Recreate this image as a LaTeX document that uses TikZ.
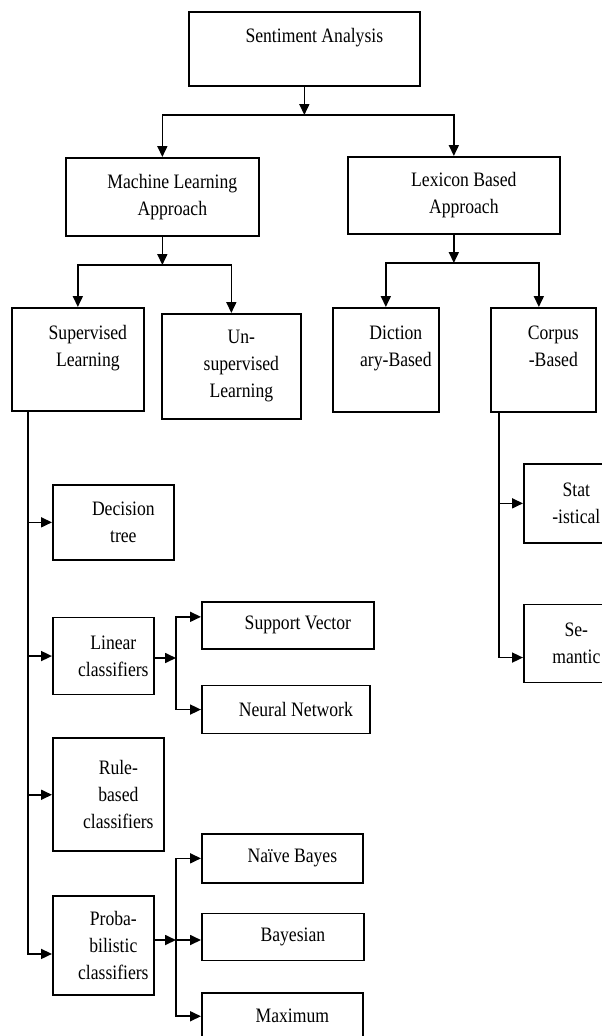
\documentclass[tikz,border=0pt]{standalone}
\usepackage{fontspec}
\setmainfont{Liberation Serif}[FakeStretch=0.86]
\usetikzlibrary{positioning,arrows.meta}

\tikzset{
	box/.style={draw, line width=1.7pt, inner sep=0pt, align=center, anchor=north west,
		font=\fontsize{20.5}{27}\selectfont,
		execute at begin node={\hspace*{20pt}}},
	arr/.style={line width=1.7pt, -{Triangle[length=11pt,width=10pt]}},
}

\begin{document}
\begin{tikzpicture}[x=1pt,y=-1pt]
	\useasboundingbox (0,0) rectangle (602,1036);

	\node[box, minimum width=231pt, minimum height=74pt] (sa) at (188,11) {Sentiment Analysis\\~};

	\node[box, minimum width=193pt, minimum height=78pt] (ml) at (65,157) {Machine Learning\\Approach};
	\node[box, minimum width=212pt, minimum height=77pt] (lx) at (347,156) {Lexicon Based\\Approach};

	\node[box, minimum width=132pt, minimum height=103pt] (sup) at (11,307) {Supervised\\Learning\\~};
	\node[box, minimum width=139pt, minimum height=105pt] (uns) at (161,313) {Un-\\supervised\\Learning};
	\node[box, minimum width=106pt, minimum height=104pt] (dic) at (332,307) {Diction\\ary-Based\\~};
	\node[box, minimum width=105pt, minimum height=104pt] (cor) at (490,307) {Corpus\\-Based\\~};

	\node[box, minimum width=121pt, minimum height=75pt] (dt) at (52,484) {Decision\\tree};
	\node[box, minimum width=101pt, minimum height=77pt, below=56pt of dt.south west, anchor=north west] (lin) {Linear\\classifiers};
	\node[box, minimum width=111pt, minimum height=113pt, below=42pt of lin.south west, anchor=north west] (rule) {Rule-\\based\\classifiers};
	\node[box, minimum width=101pt, minimum height=99pt, below=43pt of rule.south west, anchor=north west] (prob) {Proba-\\bilistic\\classifiers};

	\node[box, minimum width=172pt, minimum height=47pt] (svm) at (201,601) {Support Vector};
	\node[box, minimum width=168pt, minimum height=48pt, below=35pt of svm.south west, anchor=north west] (nn) {Neural Network};

	\node[box, minimum width=161pt, minimum height=49pt] (nb) at (201,833) {Naïve Bayes};
	\node[box, minimum width=162pt, minimum height=47pt, below=29pt of nb.south west, anchor=north west] (bay) {Bayesian};
	\node[box, minimum width=161pt, minimum height=46pt, below=31pt of bay.south west, anchor=north west] (max) {Maximum};

	\node[box, minimum width=85pt, minimum height=79pt] (stat) at (523,463) {Stat\\-istical};
	\node[box, minimum width=85pt, minimum height=78pt, below=60pt of stat.south west, anchor=north west] (sem) {Se-\\mantic};

	% junctions
	\coordinate (j1) at (304,115);
	\coordinate (j2) at (162,265);
	\coordinate (j3) at (454,263);
	\coordinate (j4) at (176,658);
	\coordinate (j5) at (176,940);
	\coordinate (t0) at ([xshift=17pt]sup.south west);
	\coordinate (t1) at ([xshift=9pt]cor.south west);

	\draw[arr] (sa.south) -- (sa.south |- j1);
	\draw[arr] (j1) -| (ml);
	\draw[arr] (j1) -| (lx);

	\draw[arr] (ml.south) -- (ml.south |- j2);
	\draw[arr] (j2) -| (sup);
	\draw[arr] (j2) -| (uns);

	\draw[arr] (lx.south) -- (lx.south |- j3);
	\draw[arr] (j3) -| (dic);
	\draw[arr] (j3) -| ([xshift=-4.5pt]cor.north);

	\draw[arr] (t0) |- (dt);
	\draw[arr] (t0) |- (lin);
	\draw[arr] (t0) |- (rule);
	\draw[arr] (t0) |- ([yshift=-8.5pt]prob.west);

	\draw[arr] (lin.east |- j4) -- (j4);
	\draw[arr] (j4) |- ([yshift=8.5pt]svm.west);
	\draw[arr] (j4) |- (nn);

	\draw[arr] (prob.east |- j5) -- (j5);
	\draw[arr] (j5) |- (nb);
	\draw[arr] (j5) -- (j5 -| bay.west);
	\draw[arr] (j5) |- (max);

	\draw[arr] (t1) |- (stat);
	\draw[arr] (t1) |- ([yshift=-14pt]sem.west);
\end{tikzpicture}
\end{document}
